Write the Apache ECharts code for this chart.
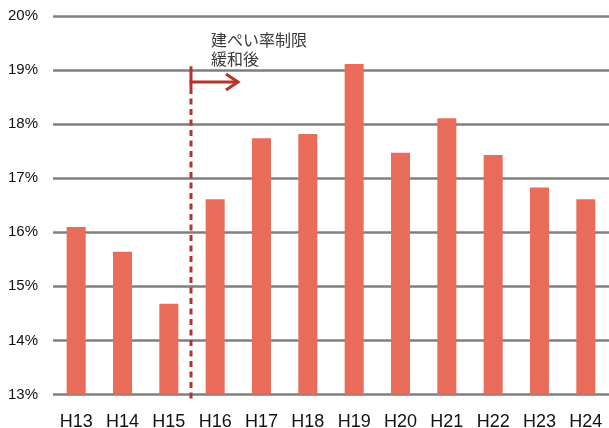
<!DOCTYPE html>
<html><head><meta charset="utf-8">
<script src="https://cdn.jsdelivr.net/npm/echarts@6/dist/echarts.min.js"></script>
<style>html,body{margin:0;padding:0;background:#fff}#c{width:609px;height:428px}</style>
</head><body><div id="c"></div>
<script>
var categories = ['H13','H14','H15','H16','H17','H18','H19','H20','H21','H22','H23','H24'];
var values = [16.10, 15.64, 14.68, 16.61, 17.74, 17.82, 19.11, 17.47, 18.11, 17.43, 16.83, 16.61];
var yTicks = {min: 13, max: 20, interval: 1};
var annotationLines = ['建ぺい率制限', '緩和後'];
var markerAfter = 'H15', markerBefore = 'H16';
var markerTop = 19.07, markerBottom = 12.86, arrowY = 18.78;

var chart = echarts.init(document.getElementById('c'), null, {renderer:'canvas'});
chart.setOption({
  animation: false,
  grid: {left: 53, right: 0, top: 16, bottom: 33.5, containLabel: false, outerBoundsMode: 'none'},
  xAxis: {
    type: 'category', data: categories,
    axisLine: {show: false}, axisTick: {show: false},
    axisLabel: {color: '#111', fontSize: 18, margin: 19, fontFamily: 'Liberation Sans, Arial'}
  },
  yAxis: {
    type: 'value', min: yTicks.min, max: yTicks.max, interval: yTicks.interval,
    axisLine: {show: false}, axisTick: {show: false},
    axisLabel: {formatter: '{value}%', color: '#111', fontSize: 15, margin: 15, fontFamily: 'Liberation Sans, Arial'},
    splitLine: {lineStyle: {color: '#7f7f7f', width: 2.5}}
  },
  series: [{
    type: 'bar', data: values, barWidth: 19,
    itemStyle: {color: '#E96B5A'}
  }]
});

var xa = chart.convertToPixel({xAxisIndex: 0}, markerAfter);
var xb = chart.convertToPixel({xAxisIndex: 0}, markerBefore);
var xm = (xa + xb) / 2 - 1;
var yTop = chart.convertToPixel({yAxisIndex: 0}, markerTop);
var yBot = chart.convertToPixel({yAxisIndex: 0}, markerBottom);
var yArr = chart.convertToPixel({yAxisIndex: 0}, arrowY);
var red = '#B3342B';
chart.setOption({
  graphic: [
    {type: 'line', shape: {x1: xm, y1: yArr + 6, x2: xm, y2: yBot}, style: {stroke: red, lineWidth: 3, lineDash: [6, 4.5]}},
    {type: 'line', shape: {x1: xm, y1: yTop, x2: xm, y2: yArr + 6}, style: {stroke: red, lineWidth: 3}},
    {type: 'line', shape: {x1: xm - 1.5, y1: yArr, x2: xm + 47, y2: yArr}, style: {stroke: red, lineWidth: 3}},
    {type: 'polyline', shape: {points: [[xm + 35, yArr - 8], [xm + 47, yArr], [xm + 35, yArr + 8]]}, style: {stroke: red, lineWidth: 3, fill: null}},
    {type: 'text', left: xm + 20, top: yTop - 36, style: {text: annotationLines.join('\n'), fill: '#3a3a3a', font: '16px "Noto Sans CJK JP"', lineHeight: 19}}
  ]
});
</script></body></html>
